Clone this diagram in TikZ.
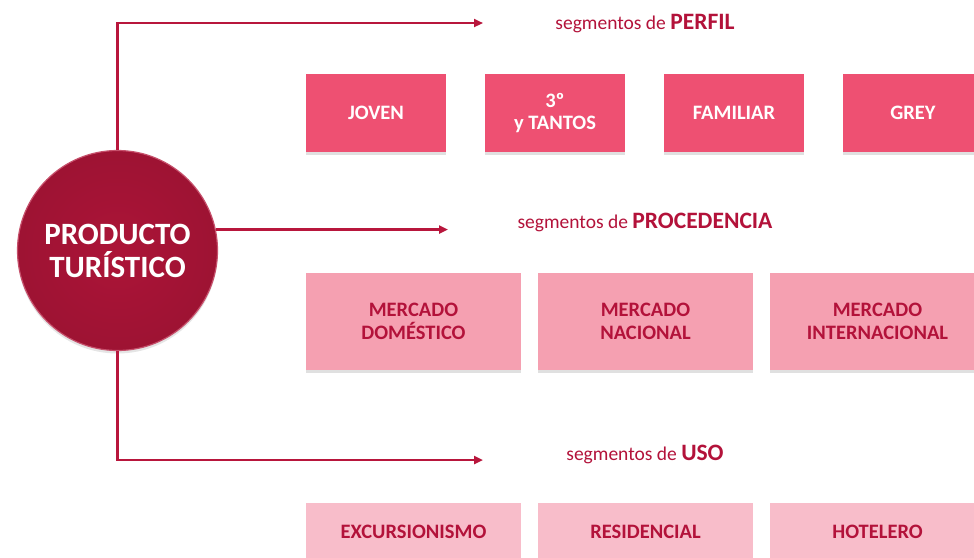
\documentclass[tikz,border=0pt]{standalone}
\usepackage{fontspec}
\setmainfont{Carlito}
\usetikzlibrary{arrows.meta,shadows}
\definecolor{crimson}{HTML}{B3153A}
\definecolor{linecol}{HTML}{B8163C}
\definecolor{pinkA}{HTML}{EE5072}
\definecolor{pinkB}{HTML}{F5A0B1}
\definecolor{pinkC}{HTML}{F8BDCA}
\definecolor{txtred}{HTML}{B3123A}
\tikzset{
  conn/.style={draw=linecol, line width=2.3pt, -{Triangle[length=9pt,width=8pt]}},
  boxbase/.style={rectangle, inner sep=0pt, align=center,
    drop shadow={shadow xshift=0pt, shadow yshift=-3pt, opacity=0.2, fill=black!60}},
  boxA/.style={boxbase, fill=pinkA, minimum width=140pt, minimum height=78pt,
    text=white, font=\fontsize{20.5}{22}\selectfont\bfseries},
  boxB/.style={boxbase, fill=pinkB, minimum width=215pt, minimum height=97pt,
    text=txtred, font=\fontsize{20.5}{23}\selectfont\bfseries},
  boxC/.style={boxbase, fill=pinkC, minimum width=215pt, minimum height=58pt,
    text=txtred, font=\fontsize{20.5}{23}\selectfont\bfseries},
  seglabel/.style={text=txtred, font=\fontsize{19.5}{22}\selectfont, inner sep=0pt},
  hub/.style={circle, minimum size=200pt, inner sep=0pt, align=center,
    inner color=crimson!96!black, outer color=crimson!88!black,
    draw=crimson!75!white, line width=1.2pt,
    text=white, font=\fontsize{31}{33}\selectfont\bfseries,
    drop shadow={shadow xshift=0pt, shadow yshift=-3pt, opacity=0.2}}
}
\begin{document}
\begin{tikzpicture}[x=1pt,y=-1pt]
\useasboundingbox (0,0) rectangle (974,557);
\fill[white] (0,0) rectangle (974,557);

% hub
\node[hub] (c) at (117.5,250.5) {PRODUCTO\\TURÍSTICO};

% arrow ends
\coordinate (a1) at (483,23);
\coordinate (a2) at (448,229);
\coordinate (a3) at (483,460);

\draw[conn] (c.north) |- (a1);
\draw[conn] (c.12) -- (c.12 -| a2);
\draw[conn] (c.south) |- (a3);

% labels
\node[seglabel] (l1) at (645,24) {segmentos de {\fontsize{23.5}{25}\selectfont\bfseries PERFIL}};
\node[seglabel] (l2) at (645,222) {segmentos de {\fontsize{23.5}{25}\selectfont\bfseries PROCEDENCIA}};
\node[seglabel] (l3) at (645,454) {segmentos de {\fontsize{23.5}{25}\selectfont\bfseries USO}};

% row 1
\node[boxA] (p1) at (376,113) {JOVEN};
\node[boxA] (p2) at (555,113) {3º\\y TANTOS};
\node[boxA] (p3) at (734,113) {FAMILIAR};
\node[boxA] (p4) at (913,113) {GREY};

% row 2
\node[boxB] (m1) at (413.5,321.5) {MERCADO\\DOMÉSTICO};
\node[boxB] (m2) at (645.5,321.5) {MERCADO\\NACIONAL};
\node[boxB] (m3) at (877.5,321.5) {MERCADO\\INTERNACIONAL};

% row 3
\node[boxC] (u1) at (413.5,532) {EXCURSIONISMO};
\node[boxC] (u2) at (645.5,532) {RESIDENCIAL};
\node[boxC] (u3) at (877.5,532) {HOTELERO};
\end{tikzpicture}
\end{document}
